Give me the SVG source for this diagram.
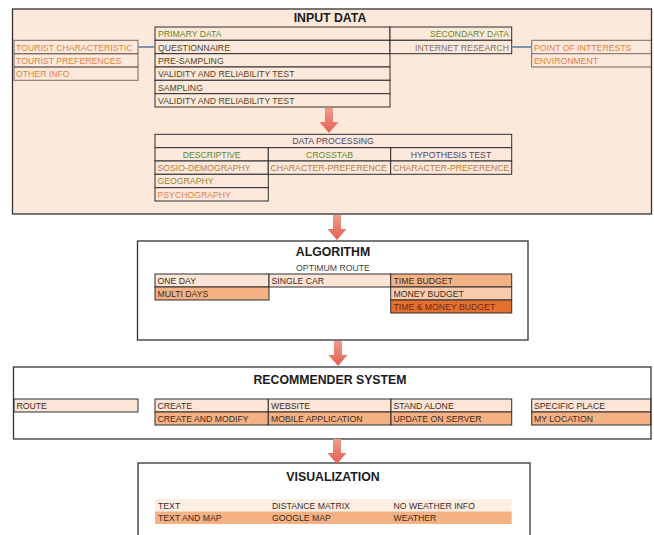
<svg xmlns="http://www.w3.org/2000/svg" width="654" height="535" viewBox="0 0 654 535">
<style>
text{font-family:"Liberation Sans",Arial,sans-serif;font-size:8.7px;fill:#3d2b1f}
.title{font-weight:bold;font-size:12.3px;fill:#1a1a1a;text-anchor:middle}
.c{text-anchor:middle}
.r{text-anchor:end}
.grn{fill:#5f8a26}
.olv{fill:#4f4426}
.org{fill:#e0823f}
.gry{fill:#7e6f64}
.pur{fill:#4a4560}
.brn{fill:#b87a3c}
.cell{stroke:#2e2e2e;stroke-width:1}
.lcell{stroke:#77675e;stroke-width:1;fill:none}
.panel{stroke:#333;stroke-width:1.3}
.pk{fill:#fde9dc}
.lt{fill:#fce4d6}
.md{fill:#f4b183}
.ms{fill:#f8cbad}
.dk{fill:#e2712f}
.arrow{fill:#ec7566}
.link{stroke:#8094a8;stroke-width:2}
</style>
<defs>
<path id="arr" d="M-4,0 h8 v-15 h5 l-9,10 z" />
<linearGradient id="ag" x1="0" y1="0" x2="0" y2="1">
<stop offset="0" stop-color="#f29a88"/>
<stop offset="1" stop-color="#e35f52"/>
</linearGradient>
<path id="ar" d="M-4,0 h8 v14 h5.5 l-9.5,11 l-9.5,-11 h5.5 z" fill="url(#ag)"/>
</defs>
<rect width="654" height="535" fill="#fff"/>

<g id="input-data">
<rect class="panel pk" x="12.5" y="9" width="639" height="205"/>
<text class="title" x="330" y="22">INPUT DATA</text>
</g>

<g id="tourist-info">
<rect class="lcell" x="14" y="40.3" width="124" height="13.4"/>
<rect class="lcell" x="14" y="53.7" width="124" height="13.3"/>
<rect class="lcell" x="14" y="67" width="124" height="13.3"/>
<text class="org" x="16" y="50.5">TOURIST CHARACTERISTIC</text>
<text class="org" x="16" y="63.8">TOURIST PREFERENCES</text>
<text class="org" x="16" y="77.1">OTHER INFO</text>
</g>

<g id="primary-data">
<rect class="cell pk" x="155" y="27" width="235" height="13.3"/>
<rect class="cell pk" x="155" y="40.3" width="235" height="13.4"/>
<rect class="cell pk" x="155" y="53.7" width="235" height="13.3"/>
<rect class="cell pk" x="155" y="67" width="235" height="13.3"/>
<rect class="cell pk" x="155" y="80.3" width="235" height="13.4"/>
<rect class="cell pk" x="155" y="93.7" width="235" height="13.3"/>
<text class="grn" x="158" y="37.1">PRIMARY DATA</text>
<text class="olv" x="158" y="50.5">QUESTIONNAIRE</text>
<text class="olv" x="158" y="63.8">PRE-SAMPLING</text>
<text class="olv" x="158" y="77.1">VALIDITY AND RELIABILITY TEST</text>
<text class="olv" x="158" y="90.5">SAMPLING</text>
<text class="olv" x="158" y="103.8">VALIDITY AND RELIABILITY TEST</text>
</g>

<g id="secondary-data">
<rect class="cell pk" x="390" y="27" width="121.7" height="13.3"/>
<rect class="cell pk" x="390" y="40.3" width="121.7" height="13.4"/>
<text class="grn r" x="509" y="37.1">SECONDARY DATA</text>
<text class="gry r" x="509" y="50.5">INTERNET RESEARCH</text>
</g>

<g id="poi-info">
<path class="lcell" d="M651,40.3 H531.7 V67 H651 M531.7,53.7 H651"/>
<text class="org" x="534" y="50.5">POINT OF INTTERESTS</text>
<text class="org" x="534" y="63.8">ENVIRONMENT</text>
</g>

<g id="data-processing">
<rect class="cell pk" x="155" y="134.3" width="356.7" height="13.4"/>
<rect class="cell pk" x="155" y="147.7" width="113.3" height="13.3"/>
<rect class="cell pk" x="268.3" y="147.7" width="122.4" height="13.3"/>
<rect class="cell pk" x="390.7" y="147.7" width="121" height="13.3"/>
<rect class="cell pk" x="155" y="161" width="113.3" height="13.3"/>
<rect class="cell pk" x="268.3" y="161" width="122.4" height="13.3"/>
<rect class="cell pk" x="390.7" y="161" width="121" height="13.3"/>
<rect class="cell pk" x="155" y="174.3" width="113.3" height="13.4"/>
<rect class="cell pk" x="155" y="187.7" width="113.3" height="13.3"/>
<text class="pur c" x="333" y="144.4">DATA PROCESSING</text>
<text class="grn c" x="211.7" y="157.8">DESCRIPTIVE</text>
<text class="grn c" x="329.5" y="157.8">CROSSTAB</text>
<text class="pur c" x="451" y="157.8">HYPOTHESIS TEST</text>
<text class="brn" x="157.5" y="171.1">SOSIO-DEMOGRAPHY</text>
<text class="brn" x="270.5" y="171.1">CHARACTER-PREFERENCE</text>
<text class="brn" x="393" y="171.1">CHARACTER-PREFERENCE</text>
<text class="grn" x="157.5" y="184.4" style="fill:#8a8a36">GEOGRAPHY</text>
<text class="org" x="157.5" y="197.8">PSYCHOGRAPHY</text>
</g>

<g id="algorithm">
<rect class="panel" fill="#fff" x="137.5" y="241" width="390.5" height="99"/>
<text class="title" x="333" y="255.5">ALGORITHM</text>
<text class="c" x="333" y="270.5" style="fill:#444">OPTIMUM ROUTE</text>
<rect class="cell lt" x="155" y="274" width="114" height="13"/>
<rect class="cell md" x="155" y="287" width="114" height="13"/>
<rect class="cell lt" x="269" y="274" width="121.7" height="13"/>
<rect class="cell md" x="390.7" y="274" width="121" height="13"/>
<rect class="cell ms" x="390.7" y="287" width="121" height="13"/>
<rect class="cell dk" x="390.7" y="300" width="121" height="13"/>
<text x="157.5" y="284">ONE DAY</text>
<text x="157.5" y="297">MULTI DAYS</text>
<text x="271.5" y="284">SINGLE CAR</text>
<text x="393.5" y="284">TIME BUDGET</text>
<text x="393.5" y="297">MONEY BUDGET</text>
<text x="393.5" y="310" style="fill:#7a2410">TIME &amp; MONEY BUDGET</text>
</g>

<g id="recommender-system">
<rect class="panel" fill="#fff" x="13.5" y="367" width="637.5" height="72"/>
<text class="title" x="330" y="384">RECOMMENDER SYSTEM</text>
<rect class="cell lt" x="14" y="399" width="124" height="13"/>
<text x="16.5" y="409">ROUTE</text>
<rect class="cell lt" x="155" y="399" width="113.3" height="13"/>
<rect class="cell md" x="155" y="412" width="113.3" height="13"/>
<rect class="cell lt" x="268.3" y="399" width="122.7" height="13"/>
<rect class="cell md" x="268.3" y="412" width="122.7" height="13"/>
<rect class="cell lt" x="391" y="399" width="120.7" height="13"/>
<rect class="cell md" x="391" y="412" width="120.7" height="13"/>
<rect class="cell lt" x="531.7" y="399" width="119" height="13"/>
<rect class="cell md" x="531.7" y="412" width="119" height="13"/>
<text x="157.5" y="409">CREATE</text>
<text x="157.5" y="422">CREATE AND MODIFY</text>
<text x="271" y="409">WEBSITE</text>
<text x="271" y="422">MOBILE APPLICATION</text>
<text x="393.5" y="409">STAND ALONE</text>
<text x="393.5" y="422">UPDATE ON SERVER</text>
<text x="534" y="409">SPECIFIC PLACE</text>
<text x="534" y="422">MY LOCATION</text>
</g>

<g id="visualization">
<rect class="panel" fill="#fff" x="138" y="463" width="392" height="80"/>
<text class="title" x="333" y="481">VISUALIZATION</text>
<rect x="155" y="499" width="356.7" height="12.5" fill="#fdeee4"/>
<rect x="155" y="511.5" width="356.7" height="12.5" fill="#f4b183"/>
<text x="158" y="508.5">TEXT</text>
<text x="158" y="521">TEXT AND MAP</text>
<text x="272" y="508.5">DISTANCE MATRIX</text>
<text x="272" y="521">GOOGLE MAP</text>
<text x="393.5" y="508.5">NO WEATHER INFO</text>
<text x="393.5" y="521">WEATHER</text>
</g>

<g id="connectors">
<line class="link" x1="138" y1="47" x2="155" y2="47"/>
<line class="link" x1="511.7" y1="47" x2="531.7" y2="47"/>
<use href="#ar" x="329" y="108"/>
<use href="#ar" x="337" y="215"/>
<use href="#ar" x="338" y="341"/>
<use href="#ar" x="337" y="439"/>
</g>
</svg>
